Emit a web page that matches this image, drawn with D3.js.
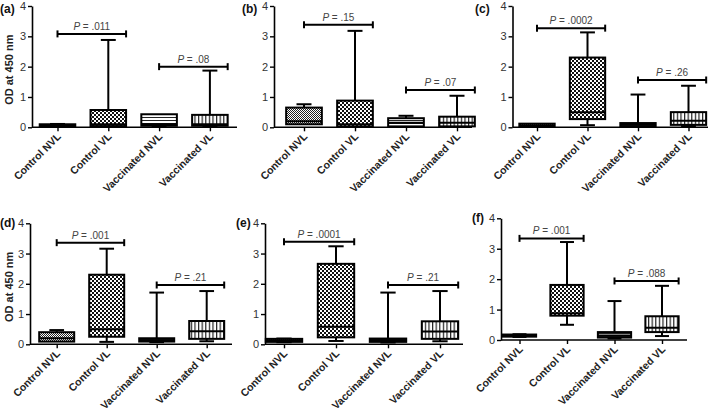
<!DOCTYPE html>
<html><head><meta charset="utf-8">
<script src="https://cdn.jsdelivr.net/npm/d3@7/dist/d3.min.js"></script>
<style>
body{margin:0;background:#fff}
svg{display:block}
text{font-family:Arial,"Liberation Sans",Helvetica,sans-serif}
</style>
</head><body>
<svg id="chart" width="709" height="416"></svg>
<script>
// ---------------- data ----------------
const categories = ["Control NVL", "Control VL", "Vaccinated NVL", "Vaccinated VL"];
const panelLabels = ["(a)", "(b)", "(c)", "(d)", "(e)", "(f)"];
const yTicks = [0, 1, 2, 3, 4];
const yTitle = "OD at 450 nm";

// box stats per category: [min, q1, median, q3, max]
const statsA = [[0.02,0.03,0.06,0.10,0.11],[0.02,0.04,0.10,0.57,2.88],[0.04,0.05,0.10,0.43,0.43],[0.03,0.05,0.10,0.41,1.87]];
const statsB = [[0.10,0.10,0.20,0.65,0.76],[0.02,0.03,0.10,0.88,3.18],[0.02,0.03,0.15,0.30,0.38],[0.02,0.03,0.15,0.35,1.04]];
const statsC = [[0.02,0.03,0.07,0.12,0.12],[0.07,0.27,0.50,2.30,3.13],[0.02,0.04,0.08,0.14,1.08],[0.04,0.08,0.22,0.50,1.37]];
const statsD = [[0.09,0.09,0.20,0.40,0.47],[0.08,0.25,0.50,2.30,3.16],[0.07,0.09,0.13,0.20,1.71],[0.10,0.18,0.43,0.77,1.76]];
const statsE = [[0.07,0.08,0.13,0.18,0.19],[0.11,0.23,0.58,2.66,3.24],[0.06,0.08,0.13,0.19,1.71],[0.10,0.18,0.42,0.76,1.76]];
const statsF = [[0.10,0.11,0.15,0.18,0.19],[0.50,0.80,0.88,1.81,3.22],[0.05,0.08,0.15,0.26,1.28],[0.13,0.26,0.40,0.78,1.78]];
const allStats = [statsA, statsB, statsC, statsD, statsE, statsF];

// significance brackets
const pControl  = [".011", ".15", ".0002", ".001", ".0001", ".001"];
const pControlY = [3.08, 3.38, 3.27, 3.36, 3.39, 3.34];
const pVacc     = [".08", ".07", ".26", ".21", ".21", ".088"];
const pVaccY    = [2.00, 1.23, 1.56, 1.96, 1.96, 1.94];

// ---------------- layout (positions/styles) ----------------
const layout = [
  {axisX:32,    first:57.5,  step:50.8, end:237, yTop:6,     yBot:127.3, lx:0,   ly:13,  title:true},
  {axisX:274,   first:304,   step:51,   end:472, yTop:6,     yBot:127.3, lx:242, ly:13,  title:false},
  {axisX:512.5, first:537,   step:50.5, end:708, yTop:6,     yBot:127.3, lx:475, ly:13,  title:false},
  {axisX:30,    first:56.7,  step:50,   end:232, yTop:223.3, yBot:344.3, lx:0,   ly:227, title:true},
  {axisX:265,   first:284,   step:52,   end:463, yTop:223.3, yBot:344.3, lx:236, ly:227, title:false},
  {axisX:501,   first:519.5, step:47.5, end:687, yTop:218.3, yBot:340,   lx:472, ly:222, title:false}
];

const svg = d3.select("#chart");
const defs = svg.append("defs");

// patterns
function pattern(id, w, h, draw) {
  const p = defs.append("pattern").attr("id", id).attr("patternUnits", "userSpaceOnUse")
    .attr("width", w).attr("height", h);
  p.append("rect").attr("width", w).attr("height", h).attr("fill", "#fff");
  draw(p);
}
pattern("pDots", 2, 2, p => {
  p.append("rect").attr("x",0).attr("y",0).attr("width",1).attr("height",1).attr("fill","#222");
  p.append("rect").attr("x",1).attr("y",1).attr("width",1).attr("height",1).attr("fill","#222");
});
pattern("pCheck", 4, 4, p => {
  p.append("rect").attr("x",0).attr("y",0).attr("width",2).attr("height",2).attr("fill","#111");
  p.append("rect").attr("x",2).attr("y",2).attr("width",2).attr("height",2).attr("fill","#111");
});
pattern("pH", 4, 3, p => {
  p.append("rect").attr("x",0).attr("y",0).attr("width",4).attr("height",1).attr("fill","#222");
});
pattern("pV", 3.6, 4, p => {
  p.append("rect").attr("x",0).attr("y",0).attr("width",1.2).attr("height",4).attr("fill","#222");
});
const fills = ["url(#pDots)", "url(#pCheck)", "url(#pH)", "url(#pV)"];

allStats.forEach((stats, i) => {
  const L = layout[i];
  const g = svg.append("g");
  const y = d3.scaleLinear().domain([0, 4]).range([L.yBot, L.yTop]);
  const x = d3.scalePoint().domain(categories).range([L.first, L.first + 3 * L.step]);
  const bw = L.step * 0.7;
  const cap = bw * 0.42;

  // y axis
  const ya = g.append("g").attr("transform", `translate(${L.axisX},0)`)
    .call(d3.axisLeft(y).tickValues(yTicks).tickFormat(d3.format("d")).tickSize(4).tickSizeOuter(0).tickPadding(2));
  ya.select(".domain").attr("stroke", "#000").attr("stroke-width", 1.6);
  ya.selectAll(".tick line").attr("stroke", "#000").attr("stroke-width", 1.4);
  ya.selectAll(".tick text").attr("font-size", 11).attr("fill", "#333");

  // x axis
  g.append("line").attr("x1", L.axisX).attr("x2", L.end).attr("y1", L.yBot).attr("y2", L.yBot)
    .attr("stroke", "#000").attr("stroke-width", 1.6);
  const xa = g.append("g").attr("transform", `translate(0,${L.yBot})`)
    .call(d3.axisBottom(x).tickSize(4).tickSizeOuter(0));
  xa.select(".domain").remove();
  xa.selectAll(".tick text").remove();
  xa.selectAll(".tick line").attr("stroke", "#000").attr("stroke-width", 1.4);

  g.selectAll(".xl").data(categories).join("text")
    .attr("transform", d => `translate(${x(d) + 4},${L.yBot + 10}) rotate(-45)`)
    .attr("text-anchor", "end").attr("font-size", 10.5).attr("font-weight", "bold").attr("fill", "#222")
    .text(d => d);

  // whiskers
  stats.forEach((s, k) => {
    const cx = x(categories[k]);
    const [mn, q1, md, q3, mx] = s;
    const wg = g.append("g").attr("stroke", "#000").attr("stroke-width", 2).attr("fill", "none");
    if (mx > q3) {
      wg.append("line").attr("x1", cx).attr("x2", cx).attr("y1", y(q3)).attr("y2", y(mx));
      wg.append("line").attr("x1", cx - cap / 2).attr("x2", cx + cap / 2).attr("y1", y(mx)).attr("y2", y(mx));
    }
    if (mn < q1) {
      wg.append("line").attr("x1", cx).attr("x2", cx).attr("y1", y(q1)).attr("y2", y(mn));
      wg.append("line").attr("x1", cx - cap / 2).attr("x2", cx + cap / 2).attr("y1", y(mn)).attr("y2", y(mn));
    }
    g.append("rect").attr("x", cx - bw / 2).attr("width", bw)
      .attr("y", y(q3)).attr("height", Math.max(0.5, y(q1) - y(q3)))
      .attr("fill", fills[k]).attr("stroke", "#000").attr("stroke-width", 2);
    g.append("line").attr("x1", cx - bw / 2).attr("x2", cx + bw / 2).attr("y1", y(md)).attr("y2", y(md))
      .attr("stroke", "#000").attr("stroke-width", 2);
  });

  // brackets
  const br = [
    {a: 0, b: 1, v: pControlY[i], t: pControl[i]},
    {a: 2, b: 3, v: pVaccY[i], t: pVacc[i]}
  ];
  br.forEach(d => {
    const x1 = x(categories[d.a]);
    const x2 = x(categories[d.b]) + L.step * 0.35;
    const yy = y(d.v);
    const bg = g.append("g").attr("stroke", "#000").attr("stroke-width", 2);
    bg.append("line").attr("x1", x1).attr("x2", x2).attr("y1", yy).attr("y2", yy);
    bg.append("line").attr("x1", x1).attr("x2", x1).attr("y1", yy - 3.5).attr("y2", yy + 3.5);
    bg.append("line").attr("x1", x2).attr("x2", x2).attr("y1", yy - 3.5).attr("y2", yy + 3.5);
    const t = g.append("text").attr("x", (x1 + x2) / 2).attr("y", yy - 4)
      .attr("text-anchor", "middle").attr("font-size", 10).attr("fill", "#444");
    t.append("tspan").attr("font-style", "italic").text("P");
    t.append("tspan").text(" = " + d.t);
  });

  // panel letter
  g.append("text").attr("x", L.lx).attr("y", L.ly).attr("font-size", 12).attr("font-weight", "bold")
    .attr("fill", "#111").text(panelLabels[i]);

  if (L.title) {
    g.append("text").attr("transform", `translate(12.5,${(L.yTop + L.yBot) / 2 + 3}) rotate(-90)`)
      .attr("text-anchor", "middle").attr("font-size", 11).attr("font-weight", "bold").attr("fill", "#222")
      .text(yTitle);
  }
});
</script>
</body></html>
